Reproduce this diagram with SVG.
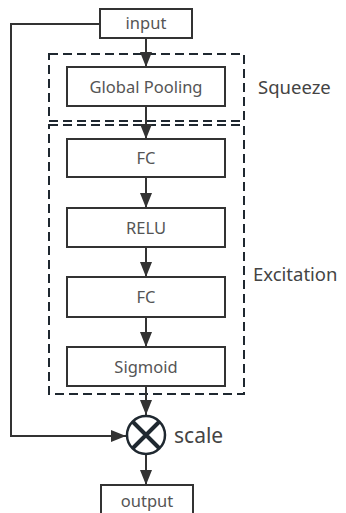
<svg xmlns="http://www.w3.org/2000/svg" width="346" height="513" viewBox="0 0 346 513">
<style>
.box{fill:#fff;stroke:#333;stroke-width:2}
.dash{fill:none;stroke:#1f2830;stroke-width:2;stroke-dasharray:9,5}
.t{font-family:"Noto Sans","Open Sans",sans-serif;font-size:16.5px;fill:#555;text-anchor:middle;dominant-baseline:central}
.lbl{font-family:"Noto Sans","Open Sans",sans-serif;font-size:18.5px;fill:#444;dominant-baseline:central}
.c{fill:none;stroke:#333;stroke-width:2}
</style>
<defs>
<marker id="a" viewBox="0 0 15 12" refX="15" refY="6" markerWidth="15" markerHeight="12" orient="auto" markerUnits="userSpaceOnUse">
<path d="M0,0 L15,6 L0,12 Z" fill="#333"/>
</marker>
</defs>
<g id="squeeze-group">
<rect class="dash" x="49" y="54" width="195" height="67"/>
<text class="lbl" x="258" y="86">Squeeze</text>
</g>
<g id="excitation-group">
<rect class="dash" x="49" y="125" width="195" height="269"/>
<text class="lbl" x="253" y="273">Excitation</text>
</g>
<g id="connectors">
<path class="c" d="M146,38 V67" marker-end="url(#a)"/>
<path class="c" d="M146,106 V139" marker-end="url(#a)"/>
<path class="c" d="M146,177 V208" marker-end="url(#a)"/>
<path class="c" d="M146,247 V277" marker-end="url(#a)"/>
<path class="c" d="M146,317 V347" marker-end="url(#a)"/>
<path class="c" d="M146,386 V415" marker-end="url(#a)"/>
<path class="c" d="M146,455 V485" marker-end="url(#a)"/>
<path class="c" d="M100,24 H11 V436 H126" marker-end="url(#a)"/>
</g>
<g id="input">
<rect class="box" x="100" y="9" width="92" height="29"/>
<text class="t" x="146" y="22">input</text>
</g>
<g id="global-pooling">
<rect class="box" x="67" y="67" width="158" height="39"/>
<text class="t" x="146" y="86">Global Pooling</text>
</g>
<g id="fc1">
<rect class="box" x="67" y="139" width="158" height="38"/>
<text class="t" x="146" y="157">FC</text>
</g>
<g id="relu">
<rect class="box" x="67" y="208" width="158" height="39"/>
<text class="t" x="146" y="227">RELU</text>
</g>
<g id="fc2">
<rect class="box" x="67" y="277" width="158" height="40"/>
<text class="t" x="146" y="296">FC</text>
</g>
<g id="sigmoid">
<rect class="box" x="67" y="347" width="158" height="39"/>
<text class="t" x="146" y="366">Sigmoid</text>
</g>
<g id="scale">
<circle cx="146" cy="435" r="19" fill="#fff" stroke="#1f2830" stroke-width="2.5"/>
<path d="M132.5,421.5 L159.5,448.5 M159.5,421.5 L132.5,448.5" stroke="#1f2830" stroke-width="4"/>
<text class="lbl" x="174" y="435" style="font-size:21px">scale</text>
</g>
<g id="output">
<rect class="box" x="101" y="485" width="92" height="40"/>
<text class="t" x="147" y="500">output</text>
</g>
</svg>
